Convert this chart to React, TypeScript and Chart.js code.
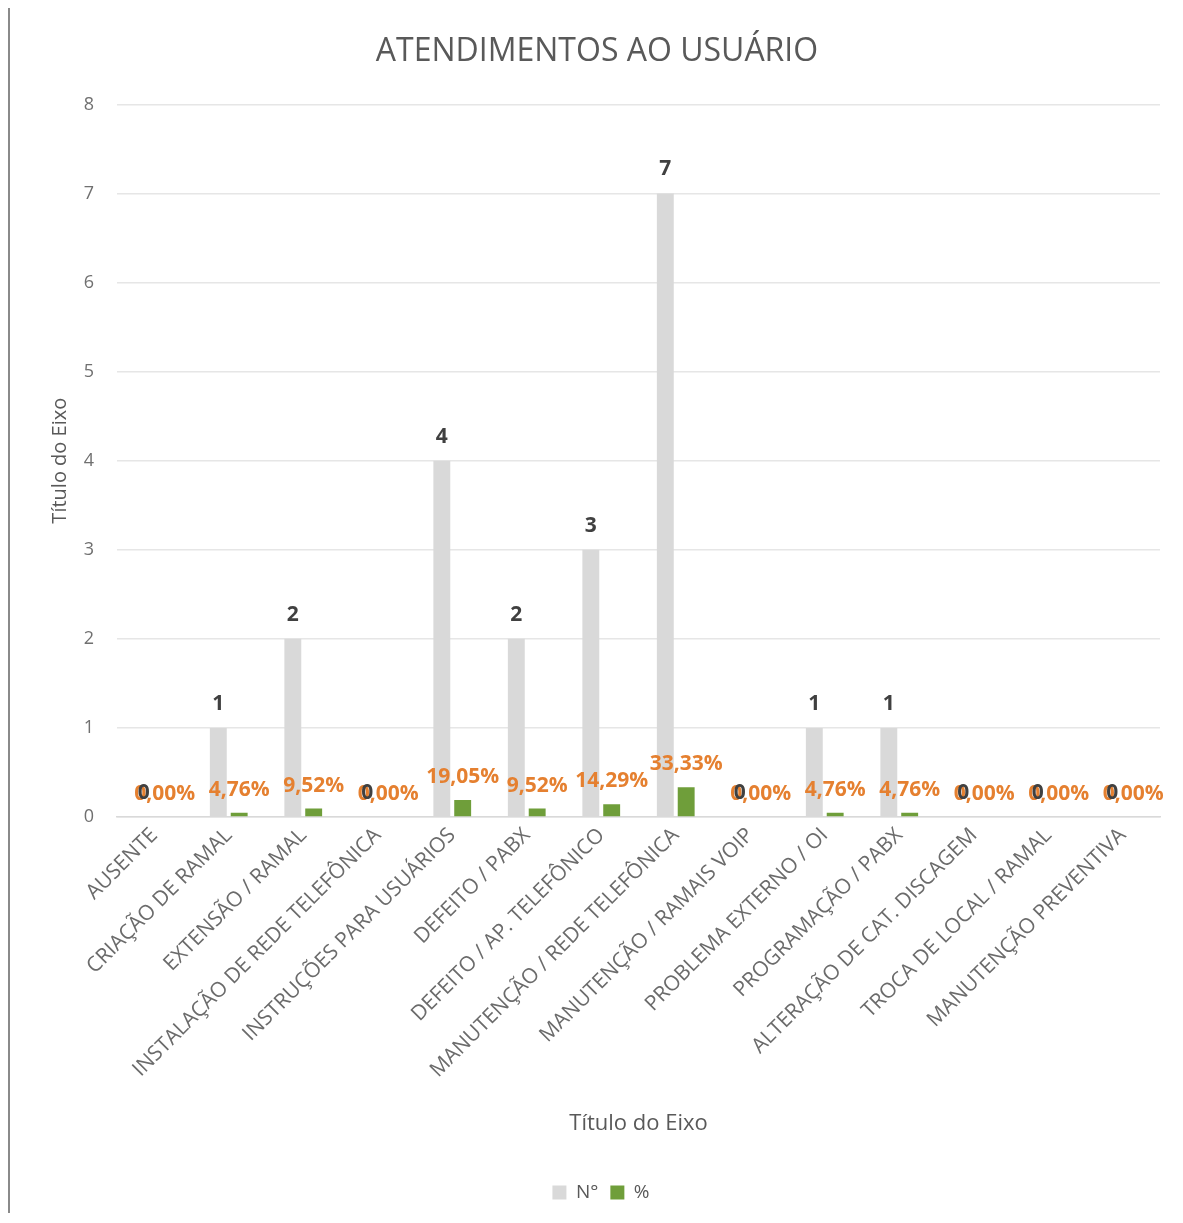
import React, { useEffect, useRef } from "react";
import { Chart, registerables } from "chart.js";

Chart.register(...registerables);

const categories = [
  "AUSENTE",
  "CRIAÇÃO DE RAMAL",
  "EXTENSÃO / RAMAL",
  "INSTALAÇÃO DE REDE TELEFÔNICA",
  "INSTRUÇÕES PARA USUÁRIOS",
  "DEFEITO / PABX",
  "DEFEITO / AP. TELEFÔNICO",
  "MANUTENÇÃO / REDE TELEFÔNICA",
  "MANUTENÇÃO / RAMAIS VOIP",
  "PROBLEMA EXTERNO / OI",
  "PROGRAMAÇÃO / PABX",
  "ALTERAÇÃO DE CAT. DISCAGEM",
  "TROCA DE LOCAL / RAMAL",
  "MANUTENÇÃO PREVENTIVA",
];
const counts = [0, 1, 2, 0, 4, 2, 3, 7, 0, 1, 1, 0, 0, 0];
const percents = [0, 0.0476, 0.0952, 0, 0.1905, 0.0952, 0.1429, 0.3333, 0, 0.0476, 0.0476, 0, 0, 0];
const yTicks = [0, 1, 2, 3, 4, 5, 6, 7, 8];

const FONT = "'Open Sans', 'DejaVu Sans', sans-serif";

const labelPlugin = {
  id: "valueLabels",
  beforeDraw(chart: any) {
    const ctx = chart.ctx;
    ctx.save();
    ctx.fillStyle = "#ffffff";
    ctx.fillRect(0, 0, chart.width, chart.height);
    ctx.fillStyle = "#8a8a8a";
    ctx.fillRect(0, 0, 2, chart.height);
    ctx.fillRect(0, 0, chart.width, 2);
    ctx.restore();
  },
  afterLayout(chart: any) {
    const lg = chart.legend;
    if (lg) {
      lg.left += 16;
      lg.right += 16;
    }
    const tb = chart.titleBlock;
    if (tb) {
      tb.left += 12;
      tb.right += 12;
    }
  },
  afterDatasetsDraw(chart: any) {
    const ctx = chart.ctx;
    ctx.save();
    ctx.textAlign = "center";
    ctx.textBaseline = "middle";
    const m1 = chart.getDatasetMeta(1);
    ctx.font = `bold 21px ${FONT}`;
    ctx.fillStyle = "#E58030";
    m1.data.forEach((el: any, i: number) => {
      const v = percents[i];
      const txt = (v * 100).toFixed(2).replace(".", ",") + "%";
      ctx.fillText(txt, el.x, el.y - 23);
    });
    const m0 = chart.getDatasetMeta(0);
    ctx.font = `bold 21px ${FONT}`;
    ctx.fillStyle = "#404040";
    m0.data.forEach((el: any, i: number) => {
      ctx.fillText(String(counts[i]), el.x, el.y - 24);
    });
    ctx.restore();
  },
};

export default function App() {
  const ref = useRef<HTMLCanvasElement | null>(null);
  useEffect(() => {
    if (!ref.current) return;
    const chart = new Chart(ref.current, {
      type: "bar",
      data: {
        labels: categories,
        datasets: [
          {
            label: "N°",
            data: counts,
            backgroundColor: "#D9D9D9",
            categoryPercentage: 0.56,
            barPercentage: 0.81,
          },
          {
            label: "%",
            data: percents,
            backgroundColor: "#6F9E3A",
            categoryPercentage: 0.56,
            barPercentage: 0.81,
          },
        ],
      },
      options: {
        responsive: false,
        animation: false,
        layout: { padding: { left: 2, right: 23, top: 2, bottom: 11 } },
        plugins: {
          title: {
            display: true,
            text: "ATENDIMENTOS AO USUÁRIO",
            color: "#595959",
            font: { family: FONT, size: 32, weight: "normal" },
            padding: { top: 26, bottom: 33 },
          },
          legend: {
            display: true,
            position: "bottom",
            labels: {
              color: "#595959",
              font: { family: FONT, size: 19 },
              boxWidth: 14,
              boxHeight: 14,
              padding: 12,
            },
          },
          tooltip: { enabled: false },
        },
        scales: {
          x: {
            grid: { display: false, drawTicks: false },
            border: { display: true, color: "#D9D9D9", width: 1.5 },
            ticks: {
              color: "#6b6b6b",
              font: { family: FONT, size: 21 },
              maxRotation: 45,
              minRotation: 45,
              autoSkip: false,
              padding: 6,
            },
            title: {
              display: true,
              text: "Título do Eixo",
              color: "#595959",
              font: { family: FONT, size: 22 },
              padding: { top: 0, bottom: 34 },
            },
            afterFit(scale: any) {
              scale.height = 354;
            },
          },
          y: {
            min: 0,
            max: 8,
            afterBuildTicks(scale: any) {
              scale.ticks = yTicks.map((v) => ({ value: v }));
            },
            grid: { color: "#E6E6E6", drawTicks: false, lineWidth: 1.5 },
            border: { display: false },
            ticks: {
              color: "#707070",
              font: { family: FONT, size: 18 },
              padding: 23,
            },
            title: {
              display: true,
              text: "Título do Eixo",
              color: "#595959",
              font: { family: FONT, size: 20 },
              padding: { top: 38, bottom: 0 },
            },
            afterFit(scale: any) {
              scale.width = 107;
            },
          },
        },
      },
      plugins: [labelPlugin],
    });
    return () => chart.destroy();
  }, []);
  return (
    <div style={{ marginTop: -3, marginBottom: -10, width: 1175, height: 1218 }}>
      <canvas ref={ref} width={1175} height={1218} style={{ display: "block" }} />
    </div>
  );
}
